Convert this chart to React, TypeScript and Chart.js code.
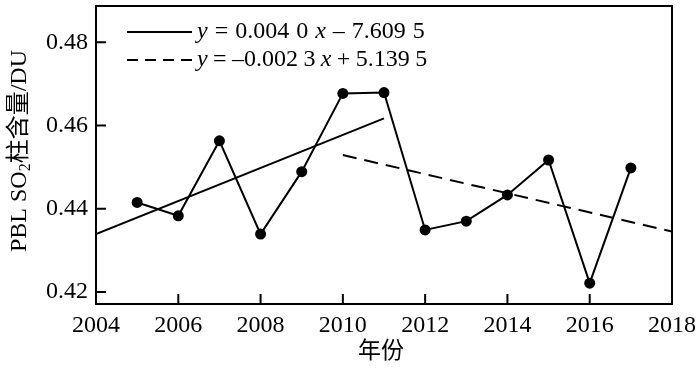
import React, { useEffect, useRef } from "react";
import { Chart, registerables } from "chart.js";

Chart.register(...registerables);

// ---- data ----
const years = [2005, 2006, 2007, 2008, 2009, 2010, 2011, 2012, 2013, 2014, 2015, 2016, 2017];
const so2Values = [0.4415, 0.4383, 0.4563, 0.4339, 0.4489, 0.4677, 0.4679, 0.4349, 0.437, 0.4433, 0.4517, 0.4221, 0.4498];
const fit1Years = [2004, 2011];
const fit1Values = [0.4339, 0.4617];
const fit2Years = [2010, 2018];
const fit2Values = [0.4529, 0.4345];
const xTickValues = [2004, 2006, 2008, 2010, 2012, 2014, 2016, 2018];
const yTickValues = [0.42, 0.44, 0.46, 0.48];
const fit1Tokens = ["y", "=", "0.004", "0", "x", "–", "7.609", "5"];
const fit2Tokens = ["y", "=", "–0.002", "3", "x", "+", "5.139", "5"];
const italicTokens = ["y", "x"];
const xTitle = "年份";
const yTitleParts = ["PBL SO", "2", "柱含量/DU"];

const SERIF = "'Liberation Serif', 'Times New Roman', 'Noto Sans CJK SC', serif";
const CJK = "'Noto Sans CJK SC', 'Liberation Serif', serif";

const decorPlugin = {
  id: "decor",
  afterDraw(chart: any) {
    const { ctx, chartArea } = chart;
    const xs = chart.scales.x;
    const ys = chart.scales.y;
    const { left, right, top, bottom } = chartArea;
    ctx.save();
    ctx.strokeStyle = "#000";
    ctx.fillStyle = "#000";
    ctx.lineWidth = 2;
    ctx.setLineDash([]);
    ctx.strokeRect(left, top, right - left, bottom - top);
    // inward ticks
    const tl = 10;
    ctx.beginPath();
    xTickValues.forEach((v) => {
      const px = xs.getPixelForValue(v);
      if (px - left > 2 && right - px > 2) {
        ctx.moveTo(px, bottom);
        ctx.lineTo(px, bottom - tl);
      }
    });
    yTickValues.forEach((v) => {
      const py = ys.getPixelForValue(v);
      ctx.moveTo(left, py);
      ctx.lineTo(left + tl, py);
    });
    ctx.stroke();

    // legend
    const drawTokens = (tokens: string[], x: number, y: number, gap: number) => {
      ctx.textBaseline = "middle";
      ctx.textAlign = "left";
      let cx = x;
      tokens.forEach((p) => {
        ctx.font = (italicTokens.includes(p) ? "italic " : "") + "24px " + SERIF;
        ctx.fillText(p, cx, y);
        cx += ctx.measureText(p).width + gap;
      });
    };
    ctx.lineWidth = 2;
    ctx.beginPath();
    ctx.moveTo(127, 32);
    ctx.lineTo(192, 32);
    ctx.stroke();
    drawTokens(fit1Tokens, 197, 32, 7);
    ctx.setLineDash([11, 7]);
    ctx.beginPath();
    ctx.moveTo(127, 60);
    ctx.lineTo(192, 60);
    ctx.stroke();
    ctx.setLineDash([]);
    drawTokens(fit2Tokens, 197, 60, 5.4);

    // x title
    ctx.font = "23px " + CJK;
    ctx.textAlign = "center";
    ctx.textBaseline = "middle";
    ctx.fillText(xTitle, 381, 349);

    // y title (rotated, with subscript)
    ctx.save();
    ctx.translate(20, 151);
    ctx.rotate(-Math.PI / 2);
    const fonts = ["24px " + SERIF, "16px " + SERIF, "24px " + SERIF];
    let total = 0;
    yTitleParts.forEach((p, i) => {
      ctx.font = fonts[i];
      total += ctx.measureText(p).width;
    });
    let cx = -total / 2;
    ctx.textAlign = "left";
    ctx.textBaseline = "middle";
    yTitleParts.forEach((p, i) => {
      ctx.font = fonts[i];
      ctx.fillText(p, cx, i === 1 ? 6 : 0);
      cx += ctx.measureText(p).width;
    });
    ctx.restore();
    ctx.restore();
  },
};

export default function App() {
  const ref = useRef<HTMLCanvasElement | null>(null);
  useEffect(() => {
    if (!ref.current) return;
    const chart = new Chart(ref.current, {
      type: "line",
      data: {
        datasets: [
          {
            label: "SO2",
            data: years.map((y, i) => ({ x: y, y: so2Values[i] })),
            borderColor: "#000",
            backgroundColor: "#000",
            borderWidth: 2,
            pointRadius: 5.5,
            pointBackgroundColor: "#000",
            pointBorderWidth: 0,
            tension: 0,
          },
          {
            label: "fit1",
            data: fit1Years.map((y, i) => ({ x: y, y: fit1Values[i] })),
            borderColor: "#000",
            borderWidth: 2,
            pointRadius: 0,
          },
          {
            label: "fit2",
            data: fit2Years.map((y, i) => ({ x: y, y: fit2Values[i] })),
            borderColor: "#000",
            borderWidth: 2,
            borderDash: [14, 8],
            pointRadius: 0,
          },
        ],
      },
      options: {
        responsive: false,
        animation: false,
        devicePixelRatio: 1,
        layout: { padding: { top: 6, right: 28, left: 0, bottom: 0 } },
        plugins: { legend: { display: false }, tooltip: { enabled: false } },
        scales: {
          x: {
            type: "linear",
            min: 2004,
            max: 2018,
            afterBuildTicks: (s: any) => {
              s.ticks = xTickValues.map((v) => ({ value: v }));
            },
            afterFit: (s: any) => {
              s.height = 65;
              s.paddingLeft = 0;
              s.paddingRight = 0;
            },
            grid: { display: false, drawTicks: false },
            border: { display: false },
            ticks: {
              color: "#000",
              padding: 7,
              maxRotation: 0,
              autoSkip: false,
              font: { family: SERIF, size: 24 },
              callback: (v: any) => String(v),
            },
          },
          y: {
            type: "linear",
            min: 0.4171,
            max: 0.4887,
            afterBuildTicks: (s: any) => {
              s.ticks = yTickValues.map((v) => ({ value: v }));
            },
            afterFit: (s: any) => {
              s.width = 96;
              s.paddingTop = 0;
              s.paddingBottom = 0;
            },
            grid: { display: false, drawTicks: false },
            border: { display: false },
            ticks: {
              color: "#000",
              padding: 8,
              autoSkip: false,
              font: { family: SERIF, size: 24 },
              callback: (v: any) => Number(v).toFixed(2),
            },
          },
        },
      },
      plugins: [decorPlugin],
    } as any);
    return () => chart.destroy();
  }, []);
  return (
    <div style={{ position: "absolute", left: 0, top: 0, width: 700, height: 369, background: "#fff" }}>
      <canvas ref={ref} width={700} height={369} style={{ display: "block" }} />
    </div>
  );
}
